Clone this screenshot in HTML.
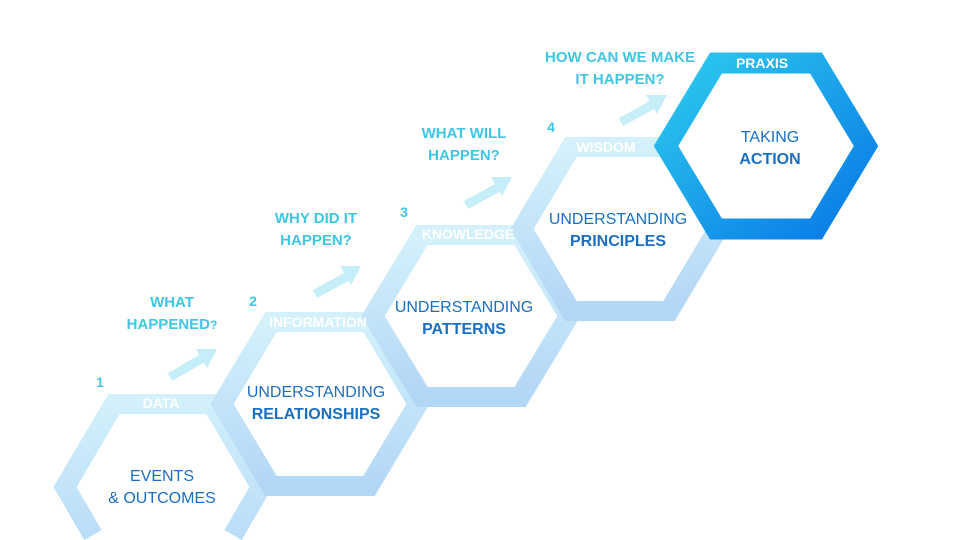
<!DOCTYPE html>
<html><head><meta charset="utf-8"><style>
html,body{margin:0;padding:0;background:#fff;width:960px;height:540px;overflow:hidden;}
svg{display:block;}
.q{font-family:"Liberation Sans",sans-serif;font-weight:bold;fill:#3ec6e2;font-size:15px;text-anchor:middle;}
.n{font-family:"Liberation Sans",sans-serif;font-weight:bold;fill:#3ec6e2;font-size:14px;text-anchor:middle;}
.l{font-family:"Liberation Sans",sans-serif;font-weight:bold;fill:#fff;font-size:14px;text-anchor:middle;}
.t{font-family:"Liberation Sans",sans-serif;fill:#1b6fc2;font-size:16px;text-anchor:middle;}
.b{font-weight:bold;}
</style></head><body>
<svg width="960" height="540" viewBox="0 0 960 540" xmlns="http://www.w3.org/2000/svg">
<defs>
<linearGradient id="g" x1="0" y1="0" x2="0" y2="1">
<stop offset="0" stop-color="#d4f1fb"/><stop offset="1" stop-color="#b2d6f6"/>
</linearGradient>
<linearGradient id="g1" gradientUnits="userSpaceOnUse" x1="0" y1="394" x2="0" y2="580">
<stop offset="0" stop-color="#d4f1fb"/><stop offset="1" stop-color="#b2d6f6"/>
</linearGradient>
<linearGradient id="p" x1="0" y1="0" x2="1" y2="1">
<stop offset="0" stop-color="#2dcaee"/><stop offset="1" stop-color="#0878e6"/>
</linearGradient>
</defs>
<g fill="none" stroke-width="20" stroke-linejoin="miter">
<polyline stroke="url(#g1)" points="93,535 65,487 114,404 212,404 261,487 233,535"/>
<polygon stroke="url(#g)" points="222,404 271,322 369,322 418,404 369,486 271,486"/>
<polygon stroke="url(#g)" points="373,316 422,235 520,235 569,316 520,397 422,397"/>
<polygon stroke="url(#g)" points="522,229 571,147 669,147 718,229 669,311 571,311"/>
</g>
<polygon points="666,146 716,63 816,63 866,146 816,229 716,229" fill="#fff" stroke="url(#p)" stroke-width="21"/>
<g stroke="#c6eef8" stroke-width="9" fill="#c6eef8">
<line x1="170" y1="377" x2="203" y2="358"/><polygon points="217,349 196,349 207,368" stroke="none"/>
<line x1="315" y1="294" x2="348" y2="276"/><polygon points="361,266 340,266 351,285" stroke="none"/>
<line x1="466" y1="205" x2="499" y2="187"/><polygon points="512,177 491,177 502,196" stroke="none"/>
<line x1="621" y1="122" x2="654" y2="104"/><polygon points="667,95 646,95 657,114" stroke="none"/>
</g>
<text class="l" x="161" y="408">DATA</text>
<text class="l" x="318" y="327">INFORMATION</text>
<text class="l" x="468" y="239">KNOWLEDGE</text>
<text class="l" x="606" y="152">WISDOM</text>
<text class="l" x="762" y="68">PRAXIS</text>
<text class="n" x="100" y="387">1</text>
<text class="n" x="253" y="306">2</text>
<text class="n" x="404" y="217">3</text>
<text class="n" x="551" y="132">4</text>
<text class="q" x="172" y="307">WHAT</text>
<text class="q" x="172" y="329">HAPPENED<tspan font-size="12">?</tspan></text>
<text class="q" x="316" y="223">WHY DID IT</text>
<text class="q" x="316" y="245">HAPPEN?</text>
<text class="q" x="464" y="138">WHAT WILL</text>
<text class="q" x="464" y="160">HAPPEN?</text>
<text class="q" x="620" y="62">HOW CAN WE MAKE</text>
<text class="q" x="620" y="84">IT HAPPEN?</text>
<text class="t" x="162" y="481">EVENTS</text>
<text class="t" x="162" y="503">&amp; OUTCOMES</text>
<text class="t" x="316" y="397">UNDERSTANDING</text>
<text class="t b" x="316" y="419">RELATIONSHIPS</text>
<text class="t" x="464" y="312">UNDERSTANDING</text>
<text class="t b" x="464" y="334">PATTERNS</text>
<text class="t" x="618" y="224">UNDERSTANDING</text>
<text class="t b" x="618" y="246">PRINCIPLES</text>
<text class="t" x="770" y="142">TAKING</text>
<text class="t b" x="770" y="164">ACTION</text>
</svg>
</body></html>
